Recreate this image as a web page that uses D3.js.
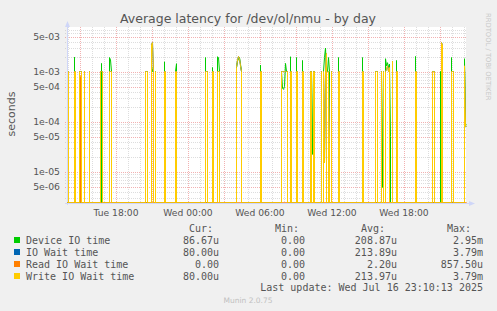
<!DOCTYPE html>
<html>
<head>
<meta charset="utf-8">
<script src="https://cdn.jsdelivr.net/npm/d3@7"></script>
<style>
  body { margin: 0; background: #f0f0f0; }
  svg { display: block; }
  text { font-family: "DejaVu Sans", sans-serif; fill: #555; }
  .mono { font-family: "DejaVu Sans Mono", monospace; font-size: 10px; white-space: pre; }
</style>
</head>
<body>
<svg id="chart" width="497" height="311"></svg>
<script>
// Sample grid: 5 minute steps from Tue 13:55 to Wed 23:10 (Jul 15-16 2025)
const firstSample = "Tue 13:55";
const lastSample = "Wed 23:10";

// Non-zero samples, everything else is 0
const deviceIO = [
  ["Tue 14:00", 1.0e-3], ["Tue 14:30", 1.93e-3], ["Tue 14:55", 1.0e-3], ["Tue 15:05", 1.0e-3],
  ["Tue 15:20", 1.0e-3], ["Tue 15:45", 1.0e-3], ["Tue 16:45", 1.45e-3], ["Tue 17:25", 1.9e-3],
  ["Tue 17:30", 1.7e-3], ["Tue 17:35", 1.0e-3], ["Tue 20:25", 1.0e-3], ["Tue 20:35", 1.0e-3],
  ["Tue 20:55", 1.0e-3], ["Tue 21:00", 1.0e-3], ["Tue 21:05", 1.3e-3], ["Tue 21:15", 1.0e-3],
  ["Tue 22:00", 1.56e-3], ["Tue 22:55", 1.0e-3], ["Tue 23:00", 1.43e-3], ["Wed 01:25", 1.9e-3],
  ["Wed 01:35", 1.0e-3], ["Wed 02:00", 1.2e-3], ["Wed 02:25", 1.97e-3], ["Wed 02:30", 1.9e-3],
  ["Wed 02:35", 1.0e-3], ["Wed 04:00", 1.2e-3], ["Wed 04:05", 1.6e-3], ["Wed 04:10", 1.8e-3],
  ["Wed 04:15", 1.9e-3], ["Wed 04:20", 1.4e-3], ["Wed 04:25", 1.0e-3], ["Wed 06:00", 1.34e-3],
  ["Wed 07:45", 1.0e-3], ["Wed 07:50", 4.6e-4], ["Wed 07:55", 4.4e-4], ["Wed 08:00", 5.0e-4],
  ["Wed 08:05", 1.45e-3], ["Wed 08:10", 1.0e-3], ["Wed 08:15", 1.0e-3], ["Wed 08:30", 1.97e-3],
  ["Wed 09:00", 1.9e-3], ["Wed 09:30", 1.66e-3], ["Wed 10:10", 1.0e-3], ["Wed 10:15", 1.0e-3],
  ["Wed 10:20", 2.2e-5], ["Wed 10:25", 1.0e-3], ["Wed 10:30", 1.0e-3], ["Wed 11:05", 1.0e-3],
  ["Wed 11:15", 1.0e-3], ["Wed 11:20", 1.9e-3], ["Wed 11:25", 2.95e-3], ["Wed 11:30", 1.0e-3],
  ["Wed 11:35", 1.0e-3], ["Wed 11:40", 1.9e-3], ["Wed 11:45", 1.0e-3], ["Wed 11:55", 1.0e-3],
  ["Wed 12:30", 1.9e-3], ["Wed 14:30", 1.9e-3], ["Wed 15:35", 1.0e-3], ["Wed 15:45", 1.0e-3],
  ["Wed 16:05", 1.0e-3], ["Wed 16:10", 4.8e-6], ["Wed 16:15", 1.0e-3], ["Wed 16:25", 1.8e-3],
  ["Wed 16:30", 1.3e-3], ["Wed 16:35", 1.5e-3], ["Wed 16:40", 1.2e-3], ["Wed 16:45", 1.4e-3],
  ["Wed 16:50", 5.0e-5], ["Wed 17:00", 1.6e-3], ["Wed 17:20", 1.66e-3], ["Wed 18:55", 2.0e-3],
  ["Wed 20:20", 1.0e-3], ["Wed 20:30", 1.0e-3], ["Wed 21:00", 1.0e-3], ["Wed 21:05", 1.0e-3],
  ["Wed 21:10", 1.2e-3], ["Wed 21:55", 1.9e-3], ["Wed 22:05", 1.0e-3], ["Wed 23:00", 1.8e-3],
  ["Wed 23:05", 9.0e-5], ["Wed 23:10", 8.667e-5]
];

const writeWait = [
  ["Tue 14:00", 1.0e-3], ["Tue 14:30", 1.0e-3], ["Tue 14:35", 1.0e-3], ["Tue 14:55", 1.0e-3],
  ["Tue 15:00", 1.0e-3], ["Tue 15:05", 1.0e-3], ["Tue 15:20", 1.0e-3], ["Tue 15:45", 1.0e-3],
  ["Tue 16:40", 1.0e-3], ["Tue 16:45", 1.0e-3], ["Tue 16:50", 1.0e-3], ["Tue 17:25", 1.0e-3],
  ["Tue 17:30", 1.0e-3], ["Tue 17:35", 1.0e-3], ["Tue 20:25", 1.0e-3], ["Tue 20:30", 1.0e-3],
  ["Tue 20:35", 1.0e-3], ["Tue 20:55", 3.5e-3], ["Tue 21:00", 3.79e-3], ["Tue 21:05", 1.0e-3],
  ["Tue 21:15", 1.0e-3], ["Tue 22:00", 1.0e-3], ["Tue 22:05", 1.0e-3], ["Tue 22:55", 1.0e-3],
  ["Tue 23:00", 1.0e-3], ["Wed 01:25", 1.0e-3], ["Wed 01:30", 1.0e-3], ["Wed 01:35", 1.0e-3],
  ["Wed 02:00", 1.0e-3], ["Wed 02:05", 1.0e-3], ["Wed 02:25", 1.0e-3], ["Wed 02:30", 1.0e-3],
  ["Wed 02:35", 1.0e-3], ["Wed 04:00", 1.2e-3], ["Wed 04:05", 1.7e-3], ["Wed 04:10", 2.0e-3],
  ["Wed 04:15", 1.8e-3], ["Wed 04:20", 1.3e-3], ["Wed 04:25", 1.0e-3], ["Wed 06:00", 1.0e-3],
  ["Wed 06:05", 1.0e-3], ["Wed 07:45", 1.0e-3], ["Wed 07:50", 1.0e-3], ["Wed 07:55", 1.0e-3],
  ["Wed 08:00", 1.0e-3], ["Wed 08:05", 1.0e-3], ["Wed 08:10", 1.0e-3], ["Wed 08:15", 1.0e-3],
  ["Wed 08:30", 1.0e-3], ["Wed 08:35", 1.0e-3], ["Wed 09:00", 1.0e-3], ["Wed 09:05", 1.0e-3],
  ["Wed 09:30", 1.0e-3], ["Wed 09:35", 1.0e-3], ["Wed 10:10", 1.0e-3], ["Wed 10:15", 1.0e-3],
  ["Wed 10:25", 1.0e-3], ["Wed 10:30", 1.0e-3], ["Wed 11:05", 1.0e-3], ["Wed 11:15", 1.0e-3],
  ["Wed 11:20", 1.5e-5], ["Wed 11:25", 1.0e-3], ["Wed 11:30", 2.3e-3], ["Wed 11:40", 1.0e-3],
  ["Wed 11:45", 3.8e-5], ["Wed 11:55", 1.0e-3], ["Wed 12:30", 1.0e-3], ["Wed 12:35", 1.0e-3],
  ["Wed 14:30", 1.0e-3], ["Wed 14:35", 1.0e-3], ["Wed 15:35", 1.0e-3], ["Wed 15:40", 1.0e-3],
  ["Wed 15:45", 1.0e-3], ["Wed 16:05", 1.0e-3], ["Wed 16:15", 1.0e-3], ["Wed 16:25", 1.0e-3],
  ["Wed 16:30", 1.1e-3], ["Wed 16:35", 1.3e-3], ["Wed 16:40", 1.0e-3], ["Wed 16:45", 1.2e-3],
  ["Wed 17:00", 1.6e-3], ["Wed 17:20", 1.0e-3], ["Wed 17:25", 1.0e-3], ["Wed 18:55", 1.0e-3],
  ["Wed 19:00", 1.0e-3], ["Wed 20:20", 1.0e-3], ["Wed 20:25", 1.0e-3], ["Wed 20:30", 1.0e-3],
  ["Wed 21:05", 3.79e-3], ["Wed 21:10", 3.4e-3], ["Wed 21:55", 1.0e-3], ["Wed 22:00", 1.0e-3],
  ["Wed 22:05", 1.0e-3], ["Wed 23:00", 1.3e-3], ["Wed 23:05", 8.0e-5], ["Wed 23:10", 8.0e-5]
];

// IO wait reads the same as write wait (fully hidden under it)
const ioWait = writeWait;

const readWait = [["Tue 14:55", 8.575e-4], ["Tue 15:00", 8.0e-4]];

const seriesNames = ["Device IO time", "IO Wait time", "Read IO Wait time", "Write IO Wait time"];
const seriesColors = ["#00cc00", "#0066b3", "#ff8000", "#ffcc00"];
const curValues = ["86.67u", "80.00u", "0.00", "80.00u"];
const minValues = ["0.00", "0.00", "0.00", "0.00"];
const avgValues = ["208.87u", "213.89u", "2.20u", "213.97u"];
const maxValues = ["2.95m", "3.79m", "857.50u", "3.79m"];

const yTicks = [5e-3, 1e-3, 5e-4, 1e-4, 5e-5, 1e-5, 5e-6];
const yTickLabels = ["5e-03", "1e-03", "5e-04", "1e-04", "5e-05", "1e-05", "5e-06"];
const xTickLabels = ["Tue 18:00", "Wed 00:00", "Wed 06:00", "Wed 12:00", "Wed 18:00"];

function parseT(s) {
  const [day, hm] = s.split(" ");
  const [h, m] = hm.split(":").map(Number);
  return new Date(2025, 6, day === "Tue" ? 15 : 16, h, m);
}

const svg = d3.select("#chart");
const pLeft = 67, pRight = 466, pTop = 27, pBottom = 203;

const x = d3.scaleTime().domain([parseT(firstSample), parseT(lastSample)]).range([pLeft, pRight]);
const y = d3.scaleLog().domain([2.4e-6, 7.94e-3]).range([pBottom, pTop]).clamp(true);

// canvas
svg.append("rect").attr("x", pLeft).attr("y", pTop)
  .attr("width", pRight - pLeft).attr("height", pBottom - pTop).attr("fill", "#fff");

// grid
const grid = svg.append("g").attr("shape-rendering", "crispEdges");
const hours = d3.timeHour.range(x.domain()[0], x.domain()[1]);
const hLines = [];
for (let e = -6; e <= -2; e++) {
  for (let m = 1; m <= 9; m++) {
    const v = m * Math.pow(10, e);
    if (v >= y.domain()[0] && v <= y.domain()[1]) hLines.push({ v, major: m === 1 || m === 5 });
  }
}
[false, true].forEach(major => {
  const col = major ? "rgba(230,100,100,0.5)" : "rgba(180,180,180,0.45)";
  grid.selectAll(null).data(hours.filter(d => (d.getHours() % 3 === 0) === major)).enter()
    .append("line")
    .attr("x1", d => Math.round(x(d)) + 0.5).attr("x2", d => Math.round(x(d)) + 0.5)
    .attr("y1", pTop).attr("y2", pBottom + 2)
    .attr("stroke", col).attr("stroke-dasharray", "1,1");
  grid.selectAll(null).data(hLines.filter(d => d.major === major)).enter()
    .append("line")
    .attr("x1", pLeft - 2).attr("x2", pRight)
    .attr("y1", d => Math.round(y(d.v)) + 0.5).attr("y2", d => Math.round(y(d.v)) + 0.5)
    .attr("stroke", col).attr("stroke-dasharray", "1,1");
});

// axes
const axisCol = "#cfd6f8";
svg.append("line").attr("x1", pLeft + 0.5).attr("x2", pLeft + 0.5).attr("y1", pBottom + 2).attr("y2", pTop - 3)
  .attr("stroke", axisCol);
svg.append("path").attr("d", `M${pLeft - 2},${pTop} L${pLeft + 3},${pTop} L${pLeft + 0.5},${pTop - 6} Z`).attr("fill", axisCol);
svg.append("line").attr("x1", pLeft - 2).attr("x2", pRight + 4).attr("y1", pBottom + 0.5).attr("y2", pBottom + 0.5)
  .attr("stroke", axisCol);
svg.append("path").attr("d", `M${pRight + 3},${pBottom - 2} L${pRight + 3},${pBottom + 3} L${pRight + 9},${pBottom + 0.5} Z`).attr("fill", axisCol);

// data: on a log axis a zero sample drops straight down to the floor
function fullSeries(events) {
  const lookup = new Map(events.map(d => [+parseT(d[0]), d[1]]));
  const samples = d3.timeMinute.every(5).range(x.domain()[0], new Date(+x.domain()[1] + 1))
    .map(t => ({ t, v: lookup.get(+t) || 0 }));
  const pts = [];
  samples.forEach((d, i) => {
    if (d.v > 0) {
      if (i > 0 && samples[i - 1].v === 0) pts.push({ t: d.t, v: 0 });
      pts.push(d);
      if (i < samples.length - 1 && samples[i + 1].v === 0) pts.push({ t: d.t, v: 0 });
    } else {
      pts.push(d);
    }
  });
  return pts;
}
const line = d3.line().x(d => x(d.t) + 0.5).y(d => y(Math.max(d.v, y.domain()[0])) - 0.5);
[deviceIO, ioWait, readWait, writeWait].forEach((events, i) => {
  svg.append("path").datum(fullSeries(events))
    .attr("d", line).attr("fill", "none")
    .attr("stroke", seriesColors[i]).attr("stroke-width", 1);
});

// tick labels
svg.selectAll(null).data(yTicks).enter().append("text")
  .attr("x", 60).attr("y", d => y(d) + 3.4).attr("text-anchor", "end")
  .attr("font-size", 9.3).text((d, i) => yTickLabels[i]);
svg.selectAll(null).data(xTickLabels).enter().append("text")
  .attr("x", d => x(parseT(d))).attr("y", 216).attr("text-anchor", "middle")
  .attr("font-size", 9.2).text(d => d);

// titles
svg.append("text").attr("x", 248).attr("y", 23).attr("text-anchor", "middle")
  .attr("font-size", 12.5).text("Average latency for /dev/ol/nmu - by day");
svg.append("text").attr("transform", "translate(15.3,114) rotate(-90)")
  .attr("text-anchor", "middle").attr("font-size", 11).text("seconds");
svg.append("text").attr("transform", "translate(485.5,13) rotate(90)")
  .attr("font-size", 6.8).style("fill", "#c8c8c8").text("RRDTOOL / TOBI OETIKER");

// legend
const legend = svg.append("g").attr("class", "legend");
[["Cur:", 213], ["Min:", 299], ["Avg:", 385], ["Max:", 471]].forEach(([h, hx]) => {
  legend.append("text").attr("class", "mono").attr("x", hx).attr("y", 231.5)
    .attr("text-anchor", "end").text(h);
});
seriesNames.forEach((name, i) => {
  const by = 243.5 + i * 12;
  legend.append("rect").attr("x", 14).attr("y", by - 6.5).attr("width", 6).attr("height", 6)
    .attr("fill", seriesColors[i]);
  legend.append("text").attr("class", "mono").attr("x", 26).attr("y", by).text(name);
  [[curValues, 219], [minValues, 305], [avgValues, 397], [maxValues, 483]].forEach(([vals, vx]) => {
    legend.append("text").attr("class", "mono").attr("x", vx).attr("y", by)
      .attr("text-anchor", "end").text(vals[i]);
  });
});
legend.append("text").attr("class", "mono").attr("x", 483).attr("y", 290.5)
  .attr("text-anchor", "end").text("Last update: Wed Jul 16 23:10:13 2025");
svg.append("text").attr("x", 248).attr("y", 303).attr("text-anchor", "middle")
  .attr("font-size", 7.5).style("fill", "#c0c0c0").text("Munin 2.0.75");
</script>
</body>
</html>
